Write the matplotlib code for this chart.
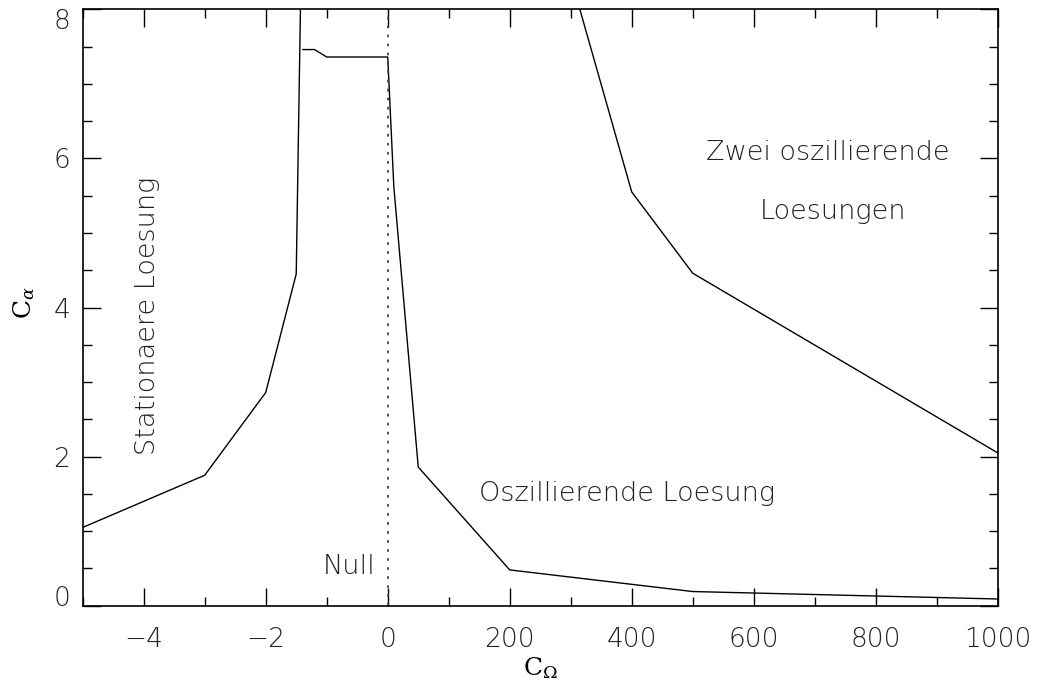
import numpy as np
import matplotlib
matplotlib.use("Agg")
import matplotlib.pyplot as plt
from matplotlib.ticker import FixedLocator, FixedFormatter

# --- data (C_Omega, C_alpha) ---
left_x = [-5.0, -3.0, -2.0, -1.5, -1.43]
left_y = [1.05, 1.75, 2.86, 4.45, 8.05]

plateau_x = [-1.39, -1.2, -1.0, 0.0, 10.0, 50.0, 200.0, 500.0, 1000.0]
plateau_y = [7.46, 7.46, 7.36, 7.36, 5.62, 1.86, 0.48, 0.19, 0.09]

right_x = [300.0, 400.0, 500.0, 1000.0]
right_y = [8.43, 5.55, 4.46, 2.05]

xmajor = [-4, -2, 0, 200, 400, 600, 800, 1000]
xmajor_labels = ["\u22124", "\u22122", "0", "200", "400", "600", "800", "1000"]
xminor = [-5, -3, -1, 100, 300, 500, 700, 900]
ymajor = [0, 2, 4, 6, 8]
yminor = [0.5, 1, 1.5, 2.5, 3, 3.5, 4.5, 5, 5.5, 6.5, 7, 7.5]

plt.rcParams['font.family'] = ['DejaVu Sans']
plt.rcParams['font.weight'] = 'light'
plt.rcParams['mathtext.fontset'] = 'dejavuserif'

fig = plt.figure(figsize=(10.38, 6.89), dpi=100)
ax = fig.add_axes([0.0797, 0.1209, 0.9612 - 0.0797, 0.9865 - 0.1209])

def fwd(x):
    x = np.asarray(x, dtype=float)
    return np.where(x < 0, x * 100.0, x)

def inv(y):
    y = np.asarray(y, dtype=float)
    return np.where(y < 0, y / 100.0, y)

ax.set_xscale('function', functions=(fwd, inv))
ax.set_xlim(-5, 1000)
ax.set_ylim(0, 8)

lw = 1.0
ax.plot(left_x, left_y, color='black', lw=lw)
ax.plot(plateau_x, plateau_y, color='black', lw=lw)
ax.plot(right_x, right_y, color='black', lw=lw)
ax.plot([0, 0], [0, 8], color='#444444', lw=1.3, linestyle=(0, (1.5, 3.5)))

ax.xaxis.set_major_locator(FixedLocator(xmajor))
ax.xaxis.set_major_formatter(FixedFormatter(xmajor_labels))
ax.xaxis.set_minor_locator(FixedLocator(xminor))
ax.yaxis.set_major_locator(FixedLocator(ymajor))
ax.yaxis.set_minor_locator(FixedLocator(yminor))

ax.tick_params(which='both', direction='in', top=True, right=True, color='black')
ax.tick_params(which='major', length=13, width=1.0, labelsize=19, labelcolor='#222222')
ax.tick_params(axis='x', which='major', pad=15)
ax.tick_params(axis='y', which='major', pad=9)
ax.tick_params(which='minor', length=6.5, width=1.0)
for s in ax.spines.values():
    s.set_linewidth(1.2)

# keep the end labels of the y axis inside the frame, as in the reference
yticks = ax.yaxis.get_major_ticks()
yticks[0].label1.set_verticalalignment('baseline')
yticks[-1].label1.set_verticalalignment('top')

ax.set_xlabel(r'$\mathrm{C}_{\Omega}$', fontsize=18)
ax.xaxis.set_label_coords((540 - 82.7) / 915.0, -(655 - 605.7) / 596.4)
ax.set_ylabel(r'$\mathrm{C}_{\alpha}$', fontsize=18)
ax.yaxis.set_label_coords(-(82.7 - 37) / 915.0, (605.7 - 303) / 596.4)

txt = dict(fontsize=19.5, color='#222222')
fig.text(147 / 1038, 1 - 316 / 689, 'Stationaere Loesung', rotation=90, ha='center', va='center', **txt)
fig.text(375 / 1038, 1 - 567 / 689, 'Null', ha='right', va='center', **txt)
fig.text(627 / 1038, 1 - 493 / 689, 'Oszillierende Loesung', ha='center', va='center', **txt)
fig.text(828 / 1038, 1 - 152 / 689, 'Zwei oszillierende', ha='center', va='center', **txt)
fig.text(833 / 1038, 1 - 212 / 689, 'Loesungen', ha='center', va='center', **txt)

fig.savefig('out.png', dpi=100)
